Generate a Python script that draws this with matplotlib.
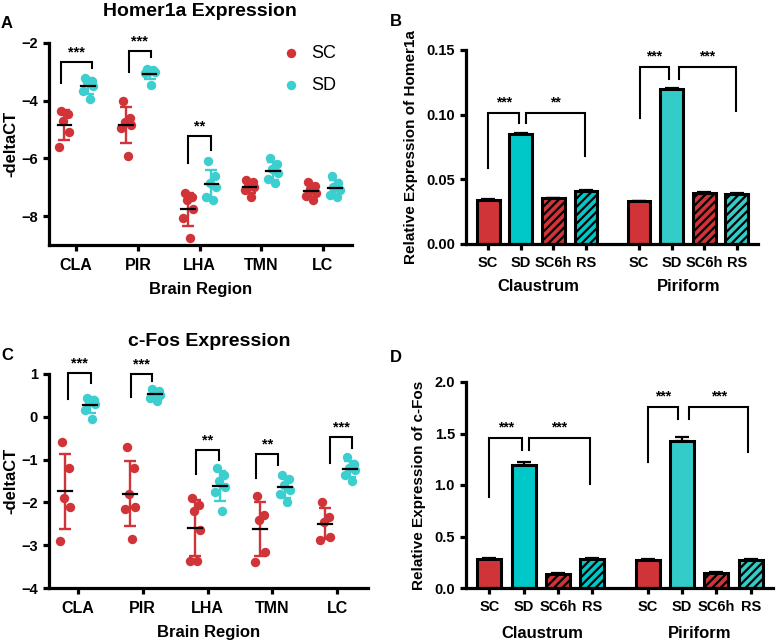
import matplotlib
matplotlib.use("Agg")
import matplotlib.pyplot as plt
import numpy as np

plt.rcParams['font.family'] = ['Liberation Sans', 'DejaVu Sans']
plt.rcParams['font.weight'] = 'bold'
plt.rcParams['axes.labelweight'] = 'bold'
plt.rcParams['hatch.linewidth'] = 1.6

RED = '#D03438'
CYAN = '#3DCFCF'
CYAN_CLA = '#00C8C8'
CYAN_PIR = '#33CCC8'

# ---- data ----
regions = ['CLA', 'PIR', 'LHA', 'TMN', 'LC']

homer_sc = [[-4.35, -4.45, -4.7, -5.1, -5.6],
            [-4.0, -4.6, -4.75, -4.85, -4.95, -5.9],
            [-7.2, -7.35, -7.45, -7.75, -8.05, -8.75],
            [-6.75, -6.8, -6.95, -7.0, -7.1, -7.35],
            [-6.8, -6.95, -7.05, -7.2, -7.3, -7.45]]
homer_sd = [[-3.2, -3.3, -3.35, -3.5, -3.65, -3.95],
            [-2.9, -2.95, -3.0, -3.0, -3.05, -3.45],
            [-6.1, -6.6, -6.85, -7.0, -7.35, -7.45],
            [-6.0, -6.2, -6.35, -6.5, -6.7, -6.85],
            [-6.6, -6.85, -7.0, -7.1, -7.25, -7.35]]

cfos_sc = [[-0.6, -1.2, -1.9, -2.1, -2.9],
           [-0.7, -1.2, -1.8, -2.1, -2.15, -2.85],
           [-1.9, -2.05, -2.2, -2.65, -3.38, -3.38],
           [-1.85, -2.3, -2.4, -3.15, -3.4],
           [-2.0, -2.35, -2.45, -2.8, -2.88]]
cfos_sd = [[0.45, 0.4, 0.35, 0.3, 0.15, -0.05],
           [0.65, 0.6, 0.55, 0.5, 0.45, 0.38],
           [-1.2, -1.35, -1.5, -1.65, -1.75, -2.2],
           [-1.35, -1.45, -1.6, -1.7, -1.8, -2.0],
           [-0.95, -1.1, -1.2, -1.25, -1.35, -1.5]]

# significance brackets for dot plots: (group, left dx, right dx, left y, top y, right y, label)
homer_sig = [(0, -0.24, 0.26, -3.4, -2.66, -2.87, '***'),
             (1, -0.15, 0.21, -3.0, -2.28, -2.5, '***'),
             (2, -0.18, 0.18, -6.17, -5.23, -5.72, '**')]
cfos_sig = [(0, -0.15, 0.2, 0.42, 1.02, 0.8, '***'),
            (1, -0.18, 0.15, 0.47, 1.0, 0.83, '***'),
            (2, -0.17, 0.17, -1.34, -0.77, -1.01, '**'),
            (3, -0.25, 0.09, -1.43, -0.88, -1.13, '**'),
            (4, -0.12, 0.23, -1.09, -0.48, -0.74, '***')]

conditions = ['SC', 'SD', 'SC6h', 'RS', 'SC', 'SD', 'SC6h', 'RS']
areas = ['Claustrum', 'Piriform']
homer_rel = [0.0342, 0.0852, 0.0352, 0.0411, 0.0332, 0.1195, 0.0396, 0.0386]
homer_rel_err = [0.0003, 0.0007, 0.0003, 0.0003, 0.0003, 0.0008, 0.0006, 0.0005]
cfos_rel = [0.28, 1.19, 0.139, 0.285, 0.272, 1.43, 0.146, 0.275]
cfos_rel_err = [0.01, 0.03, 0.005, 0.01, 0.01, 0.035, 0.01, 0.008]

# bar brackets: (x1, x2, y left, y top, y right, label)
homer_bar_sig = [(0.0, 0.95, 0.0587, 0.101, 0.0934, '***'),
                 (1.17, 2.98, 0.0934, 0.101, 0.0684, '**'),
                 (4.65, 5.54, 0.0972, 0.1366, 0.1276, '***'),
                 (5.85, 7.6, 0.1276, 0.1366, 0.103, '***')]
cfos_bar_sig = [(0.0, 0.96, 0.883, 1.456, 1.336, '***'),
                (1.15, 2.93, 1.336, 1.456, 1.013, '***'),
                (4.62, 5.52, 1.22, 1.757, 1.64, '***'),
                (5.84, 7.56, 1.64, 1.757, 1.316, '***')]

# ---- figure ----
fig = plt.figure(figsize=(7.77, 6.44), dpi=100)
W, H = 777.0, 644.0


def px_axes(l, t, r, b):
    return fig.add_axes([l / W, 1 - b / H, (r - l) / W, (b - t) / H])


def style(ax):
    for s in ['top', 'right']:
        ax.spines[s].set_visible(False)
    for s in ['left', 'bottom']:
        ax.spines[s].set_linewidth(2.3)
    ax.tick_params(width=2.3, length=4.5, labelsize=10.5)


def bracket(ax, x1, x2, yl, yt, yr, label, fs=8, off=0.0):
    ax.plot([x1, x1, x2, x2], [yl, yt, yt, yr], color='black', lw=1.5,
            solid_joinstyle='miter', clip_on=False)
    ax.text((x1 + x2) / 2, yt + off, label, ha='center', va='bottom',
            fontsize=fs, fontweight='bold', clip_on=False)


jit = [-0.05, 0.06, -0.02, 0.08, -0.08, 0.03]


def dot_panel(ax, sc, sd, sigs, star_off):
    x = np.arange(len(regions))
    for i in range(len(regions)):
        for vals, dx, col, lab in [(sc[i], -0.19, RED, 'SC'), (sd[i], 0.19, CYAN, 'SD')]:
            v = np.array(vals)
            xs = x[i] + dx + np.array(jit[:len(v)])
            ax.scatter(xs, v, s=46, color=col, zorder=3, linewidths=0,
                       label=lab if i == 0 else None)
            m, s = v.mean(), v.std(ddof=1)
            ax.errorbar(x[i] + dx, m, yerr=s, color=col, lw=1.7, capsize=4,
                        capthick=1.7, zorder=2)
            ax.plot([x[i] + dx - 0.11, x[i] + dx + 0.11], [m, m], color='black',
                    lw=1.6, zorder=4)
    for g, dl, dr, yl, yt, yr, lab in sigs:
        bracket(ax, x[g] + dl, x[g] + dr, yl, yt, yr, lab, fs=10.5, off=star_off)
    ax.set_xticks(x)
    ax.set_xticklabels(regions, fontsize=11.5)
    ax.tick_params(axis='x', pad=5)
    ax.set_xlim(-0.44, 4.47)
    ax.set_xlabel('Brain Region', fontsize=12, labelpad=6)
    ax.set_ylabel('-deltaCT', fontsize=12, labelpad=2)


def bar_panel(ax, vals, errs, sigs, star_off, ylabel):
    pos = np.array([0, 1, 2, 3, 4.63, 5.63, 6.63, 7.63])
    cols = [RED, CYAN_CLA, RED, CYAN_CLA, RED, CYAN_PIR, RED, CYAN_PIR]
    hatches = [None, None, '////', '////', None, None, '////', '////']
    for p, v, e, c, h in zip(pos, vals, errs, cols, hatches):
        ax.bar(p, v, width=0.7, color=c, edgecolor='black', linewidth=2.2,
               hatch=h, zorder=2)
        ax.errorbar(p, v, yerr=[[0], [e]], color='black', lw=1.6, capsize=5,
                    capthick=1.6, zorder=3)
    for x1, x2, yl, yt, yr, lab in sigs:
        bracket(ax, x1, x2, yl, yt, yr, lab, fs=10, off=star_off)
    ax.set_xticks(pos)
    ax.set_xticklabels(conditions, fontsize=10.5)
    ax.tick_params(axis='x', pad=4)
    ax.set_xlim(-0.68, 8.28)
    ax.set_ylabel(ylabel, fontsize=11, labelpad=6)
    for a, c in zip(areas, [1.55, 6.15]):
        ax.text(c, -0.22, a, transform=ax.get_xaxis_transform(), ha='center',
                va='center', fontsize=12)


# A
axA = px_axes(49, 43, 352, 245)
style(axA)
dot_panel(axA, homer_sc, homer_sd, homer_sig, 0.1)
axA.set_ylim(-9, -2)
axA.set_yticks([-2, -4, -6, -8])
axA.legend(loc='upper left', bbox_to_anchor=(0.71, 1.07), frameon=False,
           handletextpad=0.5, labelspacing=0.8, handlelength=1.2,
           prop={'weight': 'normal', 'size': 13})

# B
axB = px_axes(466, 50, 758, 244)
style(axB)
bar_panel(axB, homer_rel, homer_rel_err, homer_bar_sig, 0.003,
          'Relative Expression of Homer1a')
axB.set_ylim(0, 0.15)
axB.set_yticks([0, 0.05, 0.10, 0.15])
axB.set_yticklabels(['0.00', '0.05', '0.10', '0.15'])

# C
axC = px_axes(49, 374, 368, 588)
style(axC)
dot_panel(axC, cfos_sc, cfos_sd, cfos_sig, 0.06)
axC.set_ylim(-4, 1)
axC.set_yticks([1, 0, -1, -2, -3, -4])

# D
axD = px_axes(466, 382, 773, 588)
style(axD)
bar_panel(axD, cfos_rel, cfos_rel_err, cfos_bar_sig, 0.035,
          'Relative Expression of c-Fos')
axD.set_ylim(0, 2.0)
axD.set_yticks([0, 0.5, 1.0, 1.5, 2.0])
axD.set_yticklabels(['0.0', '0.5', '1.0', '1.5', '2.0'])

fig.text(200 / W, 1 - 12 / H, 'Homer1a Expression', ha='center', va='center', fontsize=14)
fig.text(209 / W, 1 - 341 / H, 'c-Fos Expression', ha='center', va='center', fontsize=14)
for lab, x, y in [('A', 7, 23), ('B', 396, 22), ('C', 7, 355), ('D', 396, 357)]:
    fig.text(x / W, 1 - y / H, lab, ha='center', va='center', fontsize=12)

fig.savefig('out.png', dpi=100)
